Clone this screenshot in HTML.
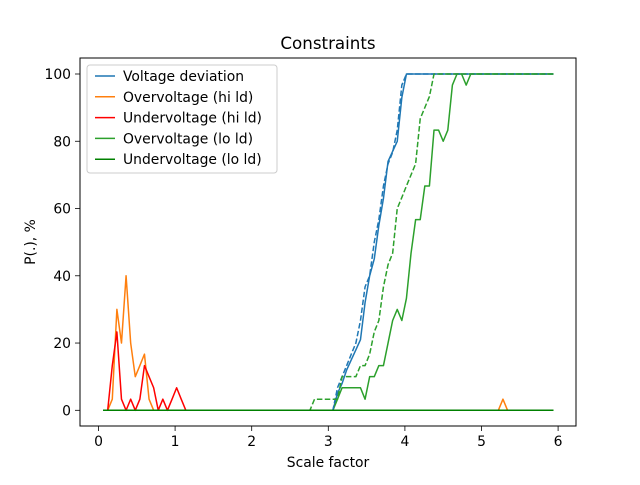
<!DOCTYPE html>
<html><head><meta charset="utf-8"><style>
body{margin:0;background:#fff}
svg text{font-family:"DejaVu Sans","Liberation Sans",sans-serif;fill:#000}
</style></head><body>
<svg id="c" width="640" height="480" viewBox="0 0 640 480" xmlns="http://www.w3.org/2000/svg">
<rect width="640" height="480" fill="#fff"/>
<text x="328" y="49" font-size="16.7" text-anchor="middle">Constraints</text>
<g id="plot"></g>
<rect x="80" y="58" width="496" height="368" fill="none" stroke="#000" stroke-width="1"/>
<text x="328" y="467" font-size="13.9" text-anchor="middle">Scale factor</text>
<text x="35" y="242" font-size="13.9" text-anchor="middle" transform="rotate(-90 35 242)">P(.), %</text>
<g id="legend"></g>
</svg>
<script>
const xTicks=[0,1,2,3,4,5,6];
const yTicks=[0,20,40,60,80,100];
const legendLabels=["Voltage deviation","Overvoltage (hi ld)","Undervoltage (hi ld)","Overvoltage (lo ld)","Undervoltage (lo ld)"];
const blueX=[0.06,3.06,3.12,3.18,3.24,3.30,3.36,3.42,3.48,3.54,3.60,3.66,3.72,3.78,3.84,3.90,3.96,4.02,5.94];
const blueY=[0,0,5,8,12,15,18,21,32,40,45,55,63,74,77,80,93,100,100];
const blueDashX=[0.06,3.06,3.12,3.18,3.24,3.30,3.36,3.42,3.48,3.54,3.60,3.66,3.72,3.78,3.84,3.90,3.96,4.02,5.94];
const blueDashY=[0,0,6.7,10,13.3,16.7,20,26.7,36.7,40,50,56.7,66.7,73.3,76.7,83.3,96.7,100,100];
const orangeX=[0.06,0.12,0.18,0.24,0.30,0.36,0.42,0.48,0.54,0.60,0.66,0.72,5.22,5.28,5.34,5.94];
const orangeY=[0,0,3.3,30,20,40,20,10,13.3,16.7,3.3,0,0,3.3,0,0];
const redX=[0.06,0.12,0.18,0.24,0.30,0.36,0.42,0.48,0.54,0.60,0.66,0.72,0.78,0.84,0.90,0.96,1.02,1.08,1.14,5.94];
const redY=[0,0,13.3,23.3,3.3,0,3.3,0,3.3,13.3,10,6.7,0,3.3,0,3.3,6.7,3.3,0,0];
const greenX=[0.06,3.06,3.12,3.18,3.42,3.48,3.54,3.60,3.66,3.72,3.78,3.84,3.90,3.96,4.02,4.08,4.14,4.20,4.26,4.32,4.38,4.44,4.50,4.56,4.62,4.68,4.74,4.80,4.86,5.94];
const greenY=[0,0,3.3,6.7,6.7,3.3,10,10,13.3,13.3,20,26.7,30,26.7,33.3,46.7,56.7,56.7,66.7,66.7,83.3,83.3,80,83.3,96.7,100,100,96.7,100,100];
const greenDashX=[0.06,2.76,2.82,3.12,3.18,3.36,3.42,3.48,3.54,3.60,3.66,3.72,3.78,3.84,3.90,3.96,4.02,4.08,4.14,4.20,4.26,4.32,4.38,5.94];
const greenDashY=[0,0,3.3,3.3,10,10,13.3,13.3,16.7,23.3,26.7,36.7,43.3,46.7,60,63.3,66.7,70,73.3,86.7,90,93.3,100,100];
const dkX=[0.06,5.94];
const dkY=[0,0];

const NS="http://www.w3.org/2000/svg";
const sx=v=>98.5+v*76.6;
const sy=v=>410.3-v*3.363;
const svg=document.getElementById('c');
const plot=document.getElementById('plot');
function mk(t,a){const e=document.createElementNS(NS,t);for(const k in a)e.setAttribute(k,a[k]);return e;}
xTicks.forEach(t=>{
  const l=mk('line',{x1:sx(t),x2:sx(t),y1:426,y2:431,stroke:'#000','stroke-width':0.8});
  
  
  svg.appendChild(l);
  const tx=mk('text',{x:sx(t),y:446,'font-size':13.9,'text-anchor':'middle'});
  
  
  tx.textContent=t;svg.appendChild(tx);
});
yTicks.forEach(t=>{
  const l=mk('line',{x1:75,x2:80,y1:sy(t),y2:sy(t),stroke:'#000','stroke-width':0.8});
  
  
  svg.appendChild(l);
  const tx=mk('text',{x:71,y:sy(t)+5,'font-size':13.9,'text-anchor':'end'});
  
  
  tx.textContent=t;svg.appendChild(tx);
});
function line(xs,ys,color,dash,name){
  const p=mk('polyline',{points:xs.map((x,i)=>sx(x)+','+sy(ys[i])).join(' '),fill:'none',stroke:color,'stroke-width':1.5,'stroke-linejoin':'round'});
  if(dash)p.setAttribute('stroke-dasharray','5.5,2.4');
  
  
  plot.appendChild(p);
}
line(blueX,blueY,'#1f77b4',false,'voltage-deviation-line');
line(orangeX,orangeY,'#ff7f0e',false,'overvoltage-hi-line');
line(redX,redY,'#ff0000',false,'undervoltage-hi-line');
line(greenX,greenY,'#2ca02c',false,'overvoltage-lo-line');
line(blueDashX,blueDashY,'#1f77b4',true,'voltage-deviation-dashed-line');
line(greenDashX,greenDashY,'#2ca02c',true,'overvoltage-lo-dashed-line');
line(dkX,dkY,'#008000',false,'undervoltage-lo-line');
const leg=document.getElementById('legend');
const lb=mk('rect',{x:87,y:65,width:190,height:108,rx:3,fill:'#fff','fill-opacity':0.8,stroke:'#ccc'});


leg.appendChild(lb);
const cols=['#1f77b4','#ff7f0e','#ff0000','#2ca02c','#008000'];
legendLabels.forEach((s,i)=>{
  const y=76+i*20.8;
  const l=mk('line',{x1:95,x2:115,y1:y,y2:y,stroke:cols[i],'stroke-width':1.5});
  
  
  leg.appendChild(l);
  const t=mk('text',{x:123,y:y+5,'font-size':13.9});
  
  
  t.textContent=s;leg.appendChild(t);
});
</script>
</body></html>
